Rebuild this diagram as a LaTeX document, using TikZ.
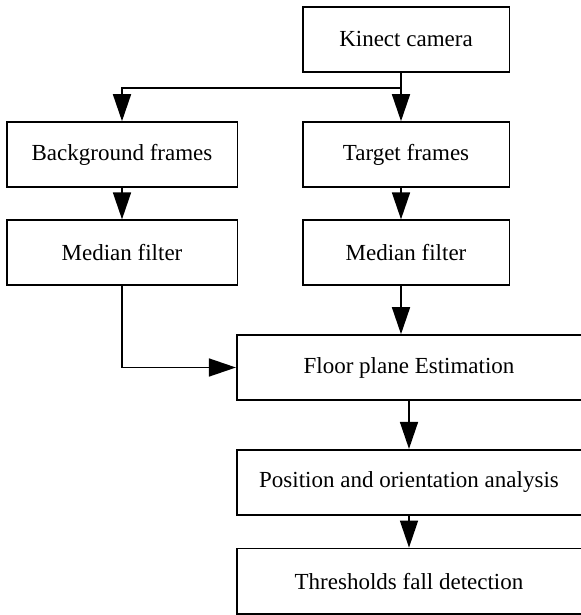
\documentclass[tikz,border=0pt]{standalone}
\usepackage{fontspec}
\setmainfont{Liberation Serif}
\usepackage{tikz}
\usetikzlibrary{arrows.meta,positioning}

\begin{document}
\begin{tikzpicture}[x=0.5pt,y=-0.5pt,
  box/.style={draw,line width=0.8pt,inner sep=0pt,minimum height=32.5pt,align=center,font=\fontsize{11.5}{13.8}\selectfont},
  wbox/.style={box,minimum width=115.3pt},
  nbox/.style={box,minimum width=103.3pt},
  lbox/.style={box,minimum width=172.3pt},
  arr/.style={line width=0.8pt,-{Triangle[length=13.5pt,width=9pt]}}]
\useasboundingbox (0,0) rectangle (581,615);
\node[nbox] (kin) at (406,39.3) {Kinect camera};
\node[wbox] (bg) at (122,154.5) {Background frames};
\node[nbox] (tgt) at (406,154.5) {Target frames};
\node[wbox] (medl) at (122,252.7) {Median filter};
\node[nbox] (medr) at (406,252.7) {Median filter};
\node[lbox] (floor) at (409,367.5) {Floor plane Estimation};
\node[lbox] (pos) at (409,482.2) {Position and orientation analysis};
\node[lbox,minimum height=32.8pt] (thr) at (409,581.2) {Thresholds fall detection};
\coordinate (split) at (401,88.3);
\draw[line width=0.8pt] (split |- kin.south) -- (split);
\draw[arr] (split) -| (bg.north);
\draw[arr] (split) -- (split |- tgt.north);
\foreach \a/\b in {bg/medl,floor/pos,pos/thr} \draw[arr] (\a)--(\b);
\draw[arr] (split |- tgt.south) -- (split |- medr.north);
\draw[arr] (medl.south) |- (floor.west);
\draw[arr] (split |- medr.south) -- (split |- floor.north);
\end{tikzpicture}
\end{document}
